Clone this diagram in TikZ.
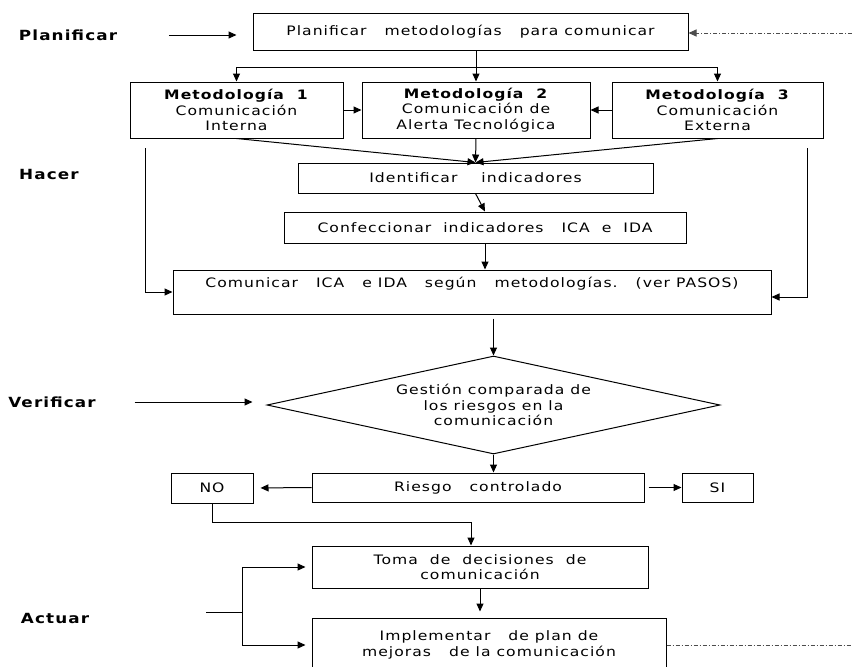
\documentclass[tikz,border=0pt]{standalone}
\usepackage{fontspec}
\setmainfont{DejaVu Sans}[FakeStretch=1.2, LetterSpace=8]
\usetikzlibrary{arrows.meta,positioning,calc,shapes.geometric}

\begin{document}
\begin{tikzpicture}[x=1pt, y=-1pt, line width=1pt,
        every node/.style={font=\fontsize{13}{15.5}\selectfont},
        caja/.style={draw, align=center, inner sep=2pt},
        rombo/.style={draw, diamond, aspect=4.6, inner sep=0pt, align=center},
        etapa/.style={font=\fontsize{14}{15.5}\selectfont\bfseries},
        flecha/.style={-{Triangle[length=8pt,width=7pt]}},
        retro/.style={gray!60!black, dash pattern=on 4pt off 2pt on 1pt off 2pt}]
        \useasboundingbox (0,0) rectangle (852,667);

        % PDCA stage labels
        \node[etapa] (lplan) at (68,35) {Planificar};
        \node[etapa] (lhacer) at (49,174) {Hacer};
        \node[etapa] (lverif) at (52,402) {Verificar};
        \node[etapa] (lact) at (55,618) {Actuar};

        % Planificar
        \node[caja, minimum width=435pt, minimum height=37pt] (plan) at (470.5,31.5) {Planificar\ \ \ metodologías\ \ \ para comunicar};

        % Three methodologies
        \node[caja, minimum width=213pt, minimum height=56pt] (met1) at (236.5,110) {\textbf{Metodología\ \ 1}\\Comunicación\\Interna};
        \node[caja, minimum width=228pt, minimum height=56pt] (met2) at (476,110) {\textbf{Metodología\ \ 2}\\Comunicación de\\Alerta Tecnológica};
        \node[caja, minimum width=211pt, minimum height=56pt] (met3) at (717.5,110) {\textbf{Metodología\ \ 3}\\Comunicación\\Externa};

        % Hacer
        \node[caja, minimum width=355pt, minimum height=30pt] (ident) at (475.5,178) {Identificar\ \ \ \ indicadores};
        \node[caja, minimum width=402pt, minimum height=31pt] (conf) at (485,227.5) {Confeccionar\ \ indicadores\ \ \ ICA\ \ e\ \ IDA};
        \node[caja, minimum width=598pt, text height=13pt, text depth=23pt, inner ysep=4pt] (comu) at (472,292) {Comunicar\ \ \ ICA\ \ \ e IDA\ \ \ según\ \ \ metodologías.\ \ \ (ver PASOS)};

        % Verificar
        \node[rombo, minimum width=453pt, minimum height=98pt] (gest) at (493.5,405) {Gestión comparada de\\los riesgos en la\\comunicación};
        \node[caja, minimum width=332pt, minimum height=29pt] (riesgo) at (478,487.5) {Riesgo\ \ \ controlado};
        \node[caja, minimum width=82pt, minimum height=30pt] (no) at (212,488) {NO};
        \node[caja, minimum width=71pt, minimum height=29pt] (si) at (717.5,487.5) {SI};

        % Actuar
        \node[caja, minimum width=336pt, minimum height=42pt] (toma) at (480,567) {Toma\ \ de\ \ decisiones\ \ de\\comunicación};
        \node[caja, minimum width=354pt, minimum height=54pt] (impl) at (489,645) {Implementar\ \ \ de plan de\\mejoras\ \ \ de la comunicación};

        % Free ends
        \coordinate (rama) at (476,67);
        \coordinate (izq) at (145,148);
        \coordinate (der) at (807,148);
        \coordinate (codo) at (471,522);
        \coordinate (act) at (206,612);
        \coordinate (actb) at (242,612);
        \coordinate (retroA) at (852,33);
        \coordinate (retroB) at (852,645);

        % Stage arrows
        \draw[flecha, shorten <=48pt, shorten >=16pt] (lplan.east) -- (lplan.east -| plan.west);
        \draw[flecha, shorten <=35pt, shorten >=14pt] (lverif.east) -- (lverif.east -| gest.west);
        \draw (act) -- (actb);
        \draw[flecha, shorten >=6pt] (actb) |- (toma.west);
        \draw[flecha, shorten >=6pt] (actb) |- (impl.west);

        % Feedback lines
        \draw[flecha, retro] (retroA) -- (retroA -| plan.east);
        \draw[retro] (impl.east |- retroB) -- (retroB);

        % Planificar to methodologies
        \draw[flecha] (plan.south -| met2.north) -- (met2.north);
        \draw[flecha] (rama) -| (met1.north);
        \draw[flecha] (rama) -| (met3.north);
        \draw[flecha] (met1.east) -- (met2.west);
        \draw[flecha] (met3.west) -- (met2.east);

        % Methodologies to indicators
        \draw[flecha] (met1.south) -- (ident.north);
        \draw[flecha] (met2.south) -- (ident.north);
        \draw[flecha] (met3.south) -- (ident.north);
        \draw[flecha] (ident.south) -- (conf.north);
        \draw[flecha] (conf.south) -- (conf.south |- comu.north);
        \draw[flecha] (izq) |- (comu.west);
        \draw[flecha] (der) |- ([yshift=-5pt]comu.east);

        % Verificar
        \draw[flecha, shorten <=4pt] (gest.north |- comu.south) -- (gest.north);
        \draw[flecha] (gest.south) -- (gest.south |- riesgo.north);
        \draw[flecha, shorten >=7pt] (riesgo.west) -- (no.east);
        \draw[flecha, shorten <=4pt] (riesgo.east) -- (si.west);

        % Actuar
        \draw[flecha] (no.south) |- (codo) -- (codo |- toma.north);
        \draw[flecha, shorten >=6pt] (toma.south) -- (toma.south |- impl.north);
\end{tikzpicture}
\end{document}
